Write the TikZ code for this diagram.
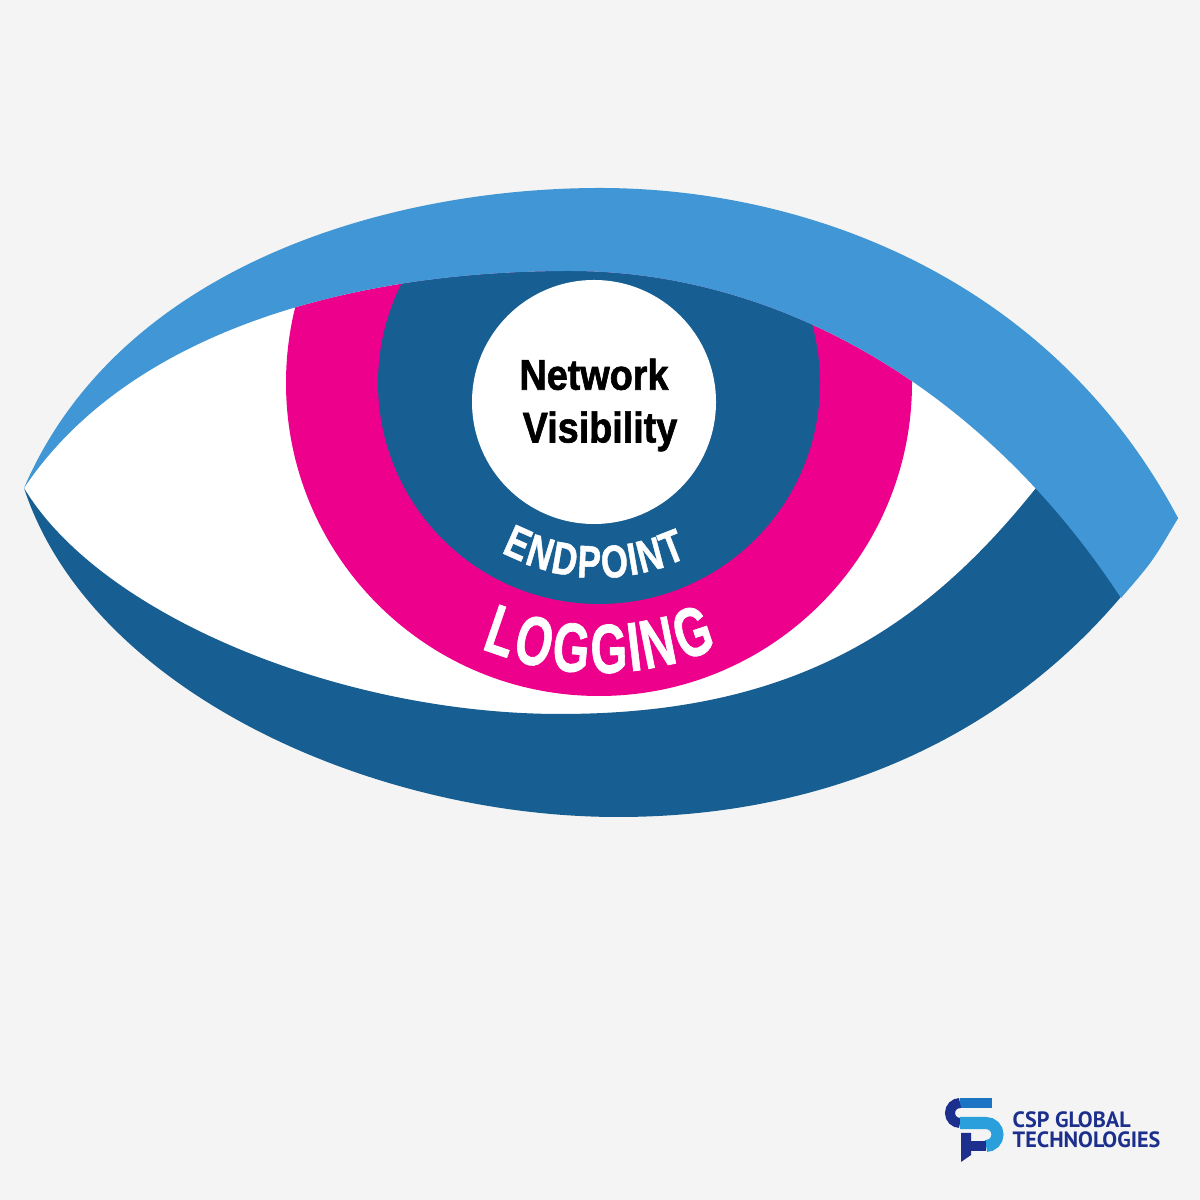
\documentclass[tikz,border=0pt]{standalone}
\usepackage{fontspec}
\setmainfont{Liberation Sans}
\newfontfamily\condfont[FakeStretch=0.88,FakeBold=1.5]{Liberation Sans}
\newfontfamily\heavyfont[FakeBold=1.2]{Liberation Sans}
\newfontfamily\logofont{PT Sans}
\definecolor{paper}{HTML}{F4F4F4}
\definecolor{lidblue}{HTML}{4197D5}
\definecolor{navy}{HTML}{175E92}
\definecolor{irispink}{HTML}{EC008C}
\definecolor{logonavy}{HTML}{1C2F8C}
\definecolor{logoblue}{HTML}{1B74C4}
\definecolor{logosky}{HTML}{2A9FDB}

\begin{document}
\begin{tikzpicture}[x=0.01cm,y=0.01cm]
    \tikzstyle{ringletter} = [anchor=base, inner sep=0pt, text=white, transform shape]
    \tikzstyle{logostroke} = [line width=0.1cm, line cap=butt]
    \tikzstyle{brandtext} = [anchor=west, inner sep=0pt, text=logonavy, font=\logofont\bfseries\fontsize{6.3}{7}\selectfont]

    \useasboundingbox (0,0) rectangle (1200,1200);
    \fill [paper] (0,0) rectangle (1200,1200);

    \coordinate (lcorner) at (24,712);
    \coordinate (rtip) at (1178,682);
    \coordinate (rfoot) at (1121,602);
    \coordinate (rcorner) at (1036,712);
    \coordinate (iris) at (599,817);
    \coordinate (pupil) at (594,798);

    % white of the eye
    \fill [white] (lcorner) .. controls (100,585) and (340,486) .. (560,486)
        .. controls (790,486) and (921,568) .. (rcorner) -- (rfoot)
        .. controls (985,810) and (780,929) .. (570,929)
        .. controls (340,929) and (125,863) .. (lcorner) -- cycle;

    % lower lid
    \fill [navy] (lcorner) .. controls (90,510) and (370,383) .. (618,383)
        .. controls (860,383) and (1060,490) .. (rtip) -- (rcorner)
        .. controls (921,568) and (790,486) .. (560,486)
        .. controls (340,486) and (100,585) .. (lcorner) -- cycle;

    \begin{scope}
        \clip (lcorner) .. controls (125,863) and (340,929) .. (570,929)
            .. controls (780,929) and (985,810) .. (rfoot) -- (1121,400) -- (24,400) -- cycle;
        \fill [irispink] (iris) circle (313);
        \fill [navy] (iris) circle (221);
        \fill [white] (pupil) circle (122);
    \end{scope}

    % upper lid
    \fill [lidblue] (lcorner) .. controls (120,935) and (390,1012) .. (600,1012)
        .. controls (800,1012) and (1048,927) .. (rtip) .. controls (1153,639) .. (rfoot)
        .. controls (985,810) and (780,929) .. (570,929)
        .. controls (340,929) and (125,863) .. (lcorner) -- cycle;

    \node [align=center, font=\condfont\bfseries\fontsize{12.2}{15}\selectfont] (network) at (600,795) {Network\hspace*{0.12cm}\\Visibility};

    \foreach \ch/\ang [count=\i] in {E/-26.6,N/-18.9,D/-10.85,P/-3.1,O/4.9,I/10.7,N/16.3,T/23.7}
        \node [ringletter, rotate=0.9*\ang, xscale=0.76, font=\heavyfont\bfseries\fontsize{13}{15}\selectfont] (endp\i) at ([shift={(270+\ang:195)}]iris) {\ch};

    \foreach \ch/\ang [count=\i] in {L/-21.1,O/-13.9,G/-5.9,G/2.1,I/7.5,N/12.6,G/20.4}
        \node [ringletter, rotate=0.9*\ang, xscale=0.68, font=\heavyfont\bfseries\fontsize{19.7}{22}\selectfont] (logg\i) at ([shift={(270+\ang:290)}]iris) {\ch};

    % logo mark
    \draw [logostroke, logoblue] (992,97) -- (960,97);
    \draw [logostroke, logonavy] (960,97) arc (90:270:10);
    \draw [logostroke, logosky, line width=0.12cm] (960,77) -- (986,77) arc (90:-90:11.5);
    \draw [logostroke, logonavy] (986,54) -- (966,54);
    \fill [logonavy] (961,67) -- (971,67) -- (971,45) -- (961,38) -- cycle;

    \node [brandtext] (brand) at (1012,80) {CSP GLOBAL};
    \node [brandtext] (brandtwo) at (1012,60) {TECHNOLOGIES};
\end{tikzpicture}
\end{document}
